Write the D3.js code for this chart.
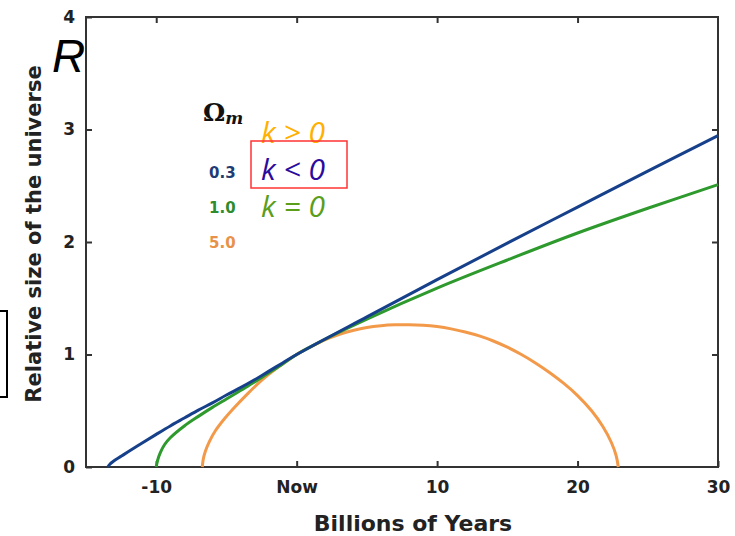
<!DOCTYPE html>
<html>
<head>
<meta charset="utf-8">
<script src="https://cdn.jsdelivr.net/npm/d3@7"></script>
<style>
  body { margin: 0; background: #fff; }
  .tick text { font-family: "DejaVu Sans", sans-serif; font-weight: bold; font-size: 17px; fill: #222; }
  .tick line { stroke: #333; stroke-width: 2; }
</style>
</head>
<body>
<script>
// years from now (billions) and relative size
var xTicks = [-10, 0, 10, 20, 30];
var yTicks = [0, 1, 2, 3, 4];

var open03 = [
  [-13.45, 0], [-13.3, 0.025], [-13, 0.055], [-12.5, 0.095], [-12, 0.135], [-11, 0.213],
  [-10, 0.29], [-9, 0.365], [-8, 0.435], [-7, 0.505], [-6, 0.57], [-5, 0.64],
  [-4, 0.705], [-3, 0.775], [-2, 0.85], [-1, 0.925], [0, 1.0], [5, 1.335],
  [10, 1.665], [15, 1.99], [20, 2.31], [25, 2.63], [30, 2.945]
];
var flat10 = [
  [-10, 0], [-9.9, 0.06], [-9.7, 0.13], [-9.4, 0.2], [-9, 0.26], [-8, 0.365],
  [-7, 0.45], [-6, 0.53], [-5, 0.605], [-4, 0.68], [-3, 0.755], [-2, 0.835],
  [-1, 0.915], [0, 1.0], [2, 1.135], [5, 1.315], [10, 1.59], [15, 1.84],
  [20, 2.08], [25, 2.30], [30, 2.51]
];
var closed50 = [
  [-6.72, 0], [-6.65, 0.07], [-6.5, 0.14], [-6.2, 0.23], [-5.8, 0.32], [-5.2, 0.42],
  [-4.5, 0.52], [-3.5, 0.65], [-2.5, 0.77], [-1.5, 0.87], [0, 1.0], [1, 1.068],
  [2, 1.13], [3, 1.178], [4, 1.213], [5, 1.24], [6, 1.256], [7, 1.264],
  [8, 1.265], [9, 1.26], [10, 1.248], [11, 1.228], [12, 1.2], [13, 1.165],
  [14, 1.12], [15, 1.065], [16, 1.0], [17, 0.925], [18, 0.84], [19, 0.745],
  [20, 0.635], [21, 0.5], [21.8, 0.36], [22.4, 0.22], [22.75, 0.1], [22.9, 0]
];

var legendVals = ["0.3", "1.0", "5.0"];
var legendCols = ["#1f3b73", "#2e8b2e", "#e8914a"];
var kLabels = ["k > 0", "k < 0", "k = 0"];
var kCols = ["#ffb000", "#2d0a9e", "#5a9e1a"];

var w = 735, h = 536;
var svg = d3.select("body").append("svg")
    .attr("width", w)
    .attr("height", h);

var x = d3.scaleLinear().domain([-15, 30]).range([86, 718]);
var y = d3.scaleLinear().domain([0, 4]).range([467, 17]);

// axes, ticks point inwards
svg.append("g")
    .attr("transform", "translate(0," + y(0) + ")")
    .call(d3.axisBottom(x).tickValues(xTicks).tickSizeInner(-6).tickSizeOuter(0).tickPadding(14)
        .tickFormat(function(d){ return d === 0 ? "Now" : d; }))
    .call(function(g){ g.select(".domain").remove(); });

svg.append("g")
    .attr("transform", "translate(0," + y(4) + ")")
    .call(d3.axisTop(x).tickValues([-10, 0, 10, 20]).tickSizeInner(-6).tickSizeOuter(0).tickFormat(""))
    .call(function(g){ g.select(".domain").remove(); });

svg.append("g")
    .attr("transform", "translate(" + x(-15) + ",0)")
    .call(d3.axisLeft(y).tickValues(yTicks).tickSizeInner(-6).tickSizeOuter(0).tickPadding(11)
        .tickFormat(d3.format("d")))
    .call(function(g){ g.select(".domain").remove(); });

svg.append("g")
    .attr("transform", "translate(" + x(30) + ",0)")
    .call(d3.axisRight(y).tickValues([1, 2, 3]).tickSizeInner(-6).tickSizeOuter(0).tickFormat(""))
    .call(function(g){ g.select(".domain").remove(); });

// frame
svg.append("rect")
    .attr("x", x(-15))
    .attr("y", y(4))
    .attr("width", x(30) - x(-15))
    .attr("height", y(0) - y(4))
    .style("fill", "none")
    .style("stroke", "#333")
    .style("stroke-width", 2);

// curves
var line = d3.line()
    .x(function(d){ return x(d[0]); })
    .y(function(d){ return y(d[1]); })
    .curve(d3.curveCatmullRom.alpha(0.5));

var series = [
  {pts: closed50, col: "#f39a4a"},
  {pts: flat10, col: "#2e9a2e"},
  {pts: open03, col: "#17408b"}
];
svg.selectAll(".curve")
    .data(series)
    .enter()
    .append("path")
    .attr("class", "curve")
    .attr("d", function(d){ return line(d.pts); })
    .style("fill", "none")
    .style("stroke", function(d){ return d.col; })
    .style("stroke-width", 3);

// axis titles
svg.append("text")
    .attr("transform", "translate(41,234) rotate(-90)")
    .attr("text-anchor", "middle")
    .style("font-family", "DejaVu Sans, sans-serif")
    .style("font-weight", "bold")
    .style("font-size", "21px")
    .style("fill", "#222")
    .text("Relative size of the universe");

svg.append("text")
    .attr("x", 413)
    .attr("y", 531)
    .attr("text-anchor", "middle")
    .style("font-family", "DejaVu Sans, sans-serif")
    .style("font-weight", "bold")
    .style("font-size", "22px")
    .style("fill", "#222")
    .text("Billions of Years");

// big R and the cut-off box on the left
svg.append("text")
    .attr("x", 52)
    .attr("y", 72)
    .style("font-family", "Liberation Sans, Arial, sans-serif")
    .style("font-style", "italic")
    .style("font-size", "46px")
    .style("fill", "#000")
    .text("R");

svg.append("rect")
    .attr("x", -10)
    .attr("y", 311)
    .attr("width", 17)
    .attr("height", 86)
    .style("fill", "none")
    .style("stroke", "#000")
    .style("stroke-width", 2);

// legend
var omega = svg.append("text")
    .attr("x", 203)
    .attr("y", 121)
    .style("font-family", "DejaVu Serif, serif")
    .style("font-weight", "bold")
    .style("fill", "#111");
omega.append("tspan").style("font-size", "25px").text("Ω");
omega.append("tspan").attr("dy", 3).style("font-size", "17px").style("font-style", "italic").text("m");

svg.selectAll(".lv")
    .data(legendVals)
    .enter()
    .append("text")
    .attr("class", "lv")
    .attr("x", 209)
    .attr("y", function(d, i){ return 178 + i * 35; })
    .style("font-family", "DejaVu Sans, sans-serif")
    .style("font-weight", "bold")
    .style("font-size", "15px")
    .style("fill", function(d, i){ return legendCols[i]; })
    .text(function(d){ return d; });

svg.selectAll(".kl")
    .data(kLabels)
    .enter()
    .append("text")
    .attr("class", "kl")
    .attr("x", 261)
    .attr("y", function(d, i){ return 143 + i * 37; })
    .style("font-family", "Open Sans, sans-serif")
    .style("font-style", "italic")
    .style("font-size", "30px")
    .style("fill", function(d, i){ return kCols[i]; })
    .text(function(d){ return d; });

svg.append("rect")
    .attr("x", 251)
    .attr("y", 141)
    .attr("width", 96)
    .attr("height", 47)
    .style("fill", "none")
    .style("stroke", "#ff3333")
    .style("stroke-width", 1.5);
</script>
</body>
</html>
